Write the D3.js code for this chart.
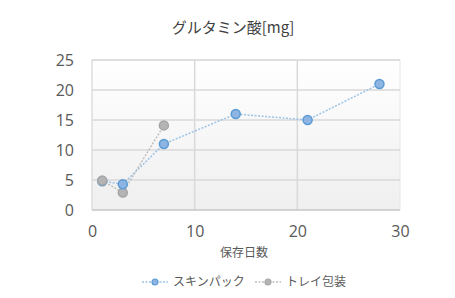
<!DOCTYPE html>
<html lang="ja">
<head>
<meta charset="UTF-8">
<title>グルタミン酸</title>
<script src="https://d3js.org/d3.v7.min.js"></script>
<style>
    body {margin: 0; background: #fff;}
    text {font-family: "Noto Sans CJK JP", "Open Sans", sans-serif;}
</style>
</head>
<body>
<script>
    const width = 455, height = 298;

    // data
    const skinDays = [1, 3, 7, 14, 21, 28];
    const skinValues = [4.8, 4.3, 11, 16, 15, 21];
    const trayDays = [1, 3, 7];
    const trayValues = [4.9, 2.9, 14.1];
    const xTicks = [0, 10, 20, 30];
    const yTicks = [0, 5, 10, 15, 20, 25];
    const seriesNames = ["スキンパック", "トレイ包装"];

    const x = d3.scaleLinear().domain([0, 30]).range([92, 400]);
    const y = d3.scaleLinear().domain([0, 25]).range([210, 60]);

    const svg = d3.select("body").append("svg")
        .attr("width", width).attr("height", height);

    const defs = svg.append("defs");
    const grad = defs.append("linearGradient").attr("id", "bg")
        .attr("x1", 0).attr("y1", 0).attr("x2", 0).attr("y2", 1);
    grad.append("stop").attr("offset", "0%").attr("stop-color", "#ffffff");
    grad.append("stop").attr("offset", "100%").attr("stop-color", "#efefef");

    // plot area
    svg.append("rect")
        .attr("x", x(0)).attr("y", y(25))
        .attr("width", x(30) - x(0)).attr("height", y(0) - y(25))
        .style("fill", "url(#bg)")
        .style("stroke", "#e6e6e6");

    // grid
    svg.append("g").selectAll("line")
        .data(yTicks.slice(1))
        .enter().append("line")
        .attr("x1", x(0)).attr("x2", x(30))
        .attr("y1", d => y(d)).attr("y2", d => y(d))
        .style("stroke", "#d9d9d9").style("stroke-width", 1.5);
    svg.append("g").selectAll("line")
        .data(xTicks.slice(1, 3))
        .enter().append("line")
        .attr("x1", d => x(d)).attr("x2", d => x(d))
        .attr("y1", y(25)).attr("y2", y(0))
        .style("stroke", "#d9d9d9").style("stroke-width", 1.5);

    // axes lines
    svg.append("line").attr("x1", x(0)).attr("x2", x(30))
        .attr("y1", y(0)).attr("y2", y(0))
        .style("stroke", "#c8c8c8").style("stroke-width", 1.5);
    svg.append("line").attr("x1", x(0)).attr("x2", x(0))
        .attr("y1", y(0)).attr("y2", y(25))
        .style("stroke", "#d9d9d9").style("stroke-width", 1);

    // tick labels
    const yAxis = svg.append("g").attr("transform", `translate(${x(0) - 18},0)`)
        .call(d3.axisLeft(y).tickValues(yTicks).tickSize(0).tickPadding(0));
    yAxis.select(".domain").remove();
    yAxis.selectAll("text").style("font-size", "16px").style("fill", "#595959")
        .style("font-family", "'Open Sans', sans-serif");

    const xAxis = svg.append("g").attr("transform", `translate(0,${y(0) + 16})`)
        .call(d3.axisBottom(x).tickValues(xTicks).tickSize(0).tickPadding(0));
    xAxis.select(".domain").remove();
    xAxis.selectAll("text").style("font-size", "16px").style("fill", "#595959")
        .style("font-family", "'Open Sans', sans-serif");

    // titles
    svg.append("text").attr("x", 233).attr("y", 33)
        .attr("text-anchor", "middle")
        .style("font-size", "15px").style("fill", "#404040")
        .text("グルタミン酸[mg]");
    svg.append("text").attr("x", 244).attr("y", 257)
        .attr("text-anchor", "middle")
        .style("font-size", "12px").style("fill", "#595959")
        .text("保存日数");

    const skin = skinDays.map((d, i) => ({day: d, value: skinValues[i], s: 0}));
    const tray = trayDays.map((d, i) => ({day: d, value: trayValues[i], s: 1}));
    const lineColor = ["#9dc3e6", "#c0c0c0"];
    const markFill = ["#8db4e2", "#b4b4b4"];
    const markStroke = ["#5b9bd5", "#a5a5a5"];

    const line = d3.line().x(d => x(d.day)).y(d => y(d.value));
    [skin, tray].forEach((pts, i) => {
        svg.append("path").datum(pts)
            .attr("d", line)
            .style("fill", "none")
            .style("stroke", lineColor[i])
            .style("stroke-width", 1.5)
            .style("stroke-dasharray", "2 1.5");
    });

    // markers, higher values on top
    const allPts = skin.concat(tray).sort((a, b) => a.value - b.value);
    svg.append("g").selectAll("circle")
        .data(allPts)
        .enter().append("circle")
        .attr("cx", d => x(d.day)).attr("cy", d => y(d.value))
        .attr("r", 4.5)
        .style("fill", d => markFill[d.s])
        .style("stroke", d => markStroke[d.s])
        .style("stroke-width", 1.5);

    // legend
    const legendX = [142, 255];
    const legend = svg.append("g").selectAll("g")
        .data(seriesNames)
        .enter().append("g")
        .attr("transform", (d, i) => `translate(${legendX[i]},282)`);
    legend.append("line").attr("x1", 0).attr("x2", 26)
        .style("stroke", (d, i) => lineColor[i])
        .style("stroke-width", 1.5)
        .style("stroke-dasharray", "2 1.5");
    legend.append("circle").attr("cx", 13).attr("r", 3)
        .style("fill", (d, i) => markFill[i])
        .style("stroke", (d, i) => markStroke[i])
        .style("stroke-width", 1.2);
    legend.append("text").attr("x", 31).attr("dy", "0.35em")
        .style("font-size", "12px").style("fill", "#595959")
        .text(d => d);
</script>
</body>
</html>
